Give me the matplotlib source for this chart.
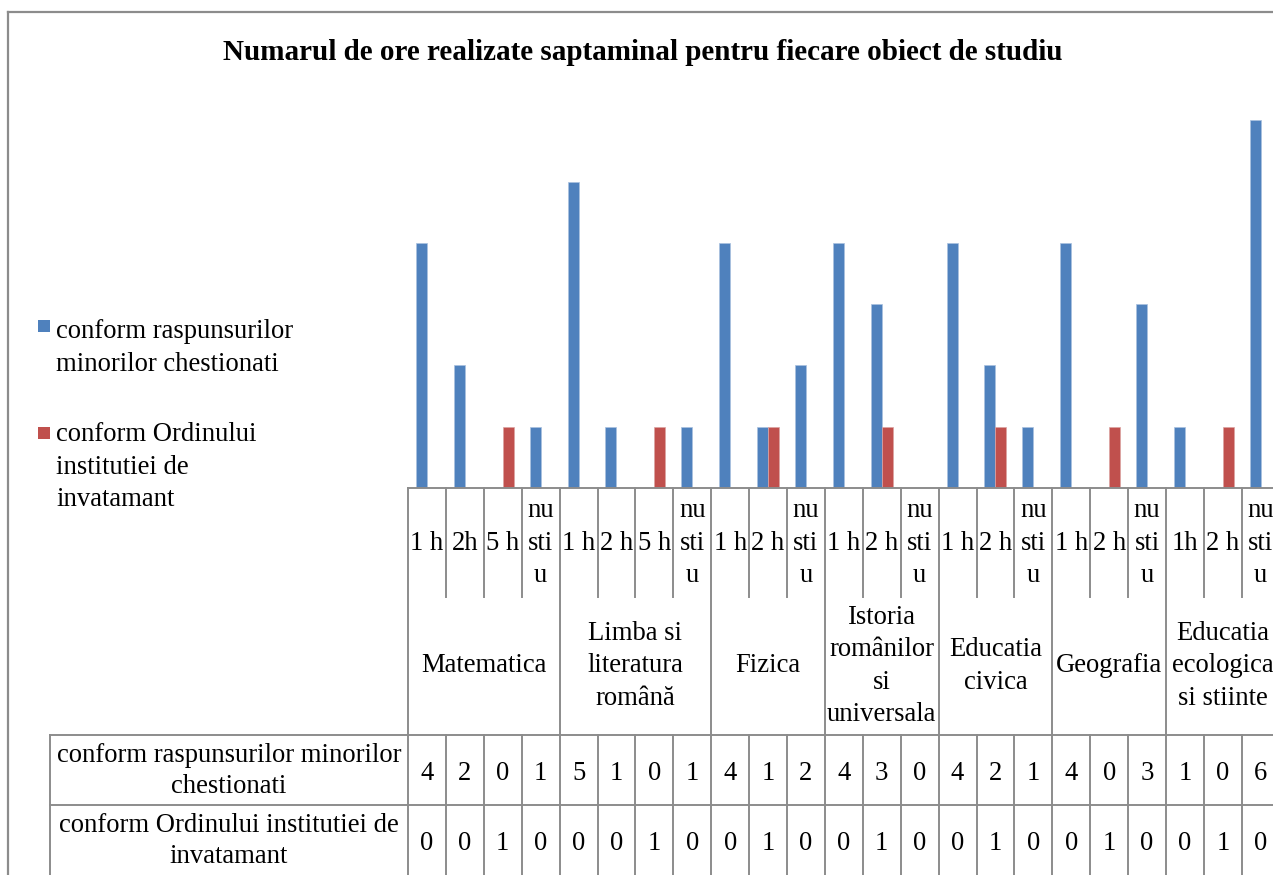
import matplotlib.pyplot as plt
import matplotlib.transforms as mtransforms
from matplotlib.lines import Line2D
from matplotlib.patches import Rectangle

subjects = ['Matematica', 'Limba si\nliteratura\nromână', 'Fizica',
            'Istoria\nromânilor\nsi\nuniversala', 'Educatia\ncivica',
            'Geografia', 'Educatia\necologica\nsi stiinte']
hours = [['1 h', '2h', '5 h', 'nu\nsti\nu'],
         ['1 h', '2 h', '5 h', 'nu\nsti\nu'],
         ['1 h', '2 h', 'nu\nsti\nu'],
         ['1 h', '2 h', 'nu\nsti\nu'],
         ['1 h', '2 h', 'nu\nsti\nu'],
         ['1 h', '2 h', 'nu\nsti\nu'],
         ['1h', '2 h', 'nu\nsti\nu']]
minori = [4, 2, 0, 1, 5, 1, 0, 1, 4, 1, 2, 4, 3, 0, 4, 2, 1, 4, 0, 3, 1, 0, 6]
ordin = [0, 0, 1, 0, 0, 0, 1, 0, 0, 1, 0, 0, 1, 0, 0, 1, 0, 0, 1, 0, 0, 1, 0]
table_names = ['conform raspunsurilor minorilor\nchestionati',
               'conform Ordinului institutiei de\ninvatamant']
legend_names = ['conform raspunsurilor\nminorilor chestionati',
                'conform Ordinului\ninstitutiei de\ninvatamant']
title = 'Numarul de ore realizate saptaminal pentru fiecare obiect de studiu'

blue = '#4F81BD'
red = '#C0504D'
grid = '#8c8c8c'
W, H = 1273, 875
colw = 37.9
unit = 61.3
fs = 19.2
ls = 1.37

plt.rcParams['font.family'] = ['Liberation Serif', 'DejaVu Serif']

fig = plt.figure(figsize=(W / 100, H / 100), dpi=100)
n = len(minori)
ax = fig.add_axes([408 / W, (H - 488) / H, n * colw / W, 7 * unit / H])
ax.set_xlim(0, n)
ax.set_ylim(0, 7)
ax.axis('off')

bw = 0.29
x = [i + 0.5 for i in range(n)]
ax.bar([v - bw for v in x], minori, width=bw, align='edge', color=blue,
       edgecolor='#a9c1df', linewidth=0.5)
ax.bar(x, ordin, width=bw, align='edge', color=red,
       edgecolor='#dca3a2', linewidth=0.5)


def fy(py):
    return 1 - py / H


def xd(px):
    return (px - 408) / colw


tr = mtransforms.blended_transform_factory(ax.transData, fig.transFigure)


def vline(xv, y0, y1):
    fig.add_artist(Line2D([xv, xv], [fy(y0), fy(y1)], transform=tr,
                          color=grid, linewidth=1.4))


def hline(x0, x1, yv):
    fig.add_artist(Line2D([x0, x1], [fy(yv), fy(yv)], transform=tr,
                          color=grid, linewidth=1.4))


# chart border
fig.add_artist(Line2D([8 / W, 8 / W], [0, fy(12)], transform=fig.transFigure,
                      color=grid, linewidth=1.6))
fig.add_artist(Line2D([8 / W, 1], [fy(12), fy(12)], transform=fig.transFigure,
                      color=grid, linewidth=1.6))

fig.text(643 / W, fy(53), title, ha='center', va='center',
         fontsize=21, fontweight='bold')

# axis + category labels
hline(0, n + 1, 488)
start = 0
bounds = [0]
for subj, hrs in zip(subjects, hours):
    for j, h in enumerate(hrs):
        c = start + j
        ax.text(c + 0.5, fy(543), h, transform=tr, ha='center', va='center',
                fontsize=fs, linespacing=ls)
        if j > 0:
            vline(c, 488, 597)
    ax.text(start + len(hrs) / 2, fy(666), subj, transform=tr, ha='center',
            va='center', fontsize=fs, linespacing=ls)
    start += len(hrs)
    bounds.append(start)
for b in bounds:
    vline(b, 488, 735)

# data table
hline(xd(50), n + 1, 735)
hline(xd(50), n + 1, 805)
vline(xd(50), 735, 880)
for c in range(n + 1):
    vline(c, 735, 880)
for name, vals, yc in zip(table_names, [minori, ordin], [771, 841]):
    ax.text(xd(229), fy(yc), name, transform=tr, ha='center', va='center',
            fontsize=fs, linespacing=1.3)
    for c, v in enumerate(vals):
        ax.text(c + 0.5, fy(yc + 2), str(v), transform=tr, ha='center',
                va='center', fontsize=fs)

# legend
for name, col, ysq, yc in zip(legend_names, [blue, red], [326, 433], [348, 467]):
    fig.add_artist(Rectangle((38 / W, fy(ysq + 6)), 12 / W, 12 / H,
                             transform=fig.transFigure, facecolor=col,
                             edgecolor='none'))
    fig.text(56 / W, fy(yc), name, ha='left', va='center', fontsize=fs,
             linespacing=ls)

fig.savefig('out.png', dpi=100)
